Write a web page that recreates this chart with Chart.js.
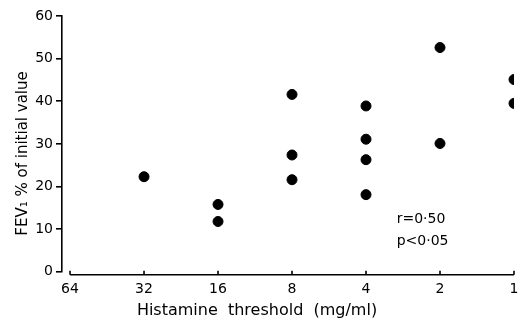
<!DOCTYPE html>
<html>
<head>
<meta charset="utf-8">
<script src="https://cdn.jsdelivr.net/npm/chart.js@4/dist/chart.umd.min.js"></script>
<style>
  html, body { margin: 0; padding: 0; background: #fff; }
  #wrap { width: 529px; height: 320px; }
</style>
</head>
<body>
<div id="wrap"><canvas id="myChart"></canvas></div>
<script>
// histamine threshold (mg/ml) of each patient and fall in FEV1
const thresholds = [32, 16, 16, 8, 8, 8, 4, 4, 4, 4, 2, 2, 1, 1];
const fev1 = [22.3, 15.8, 11.8, 41.6, 27.4, 21.6, 38.9, 31.1, 26.3, 18.1, 52.6, 30.1, 45.1, 39.5];
const xTicks = [64, 32, 16, 8, 4, 2, 1];
const yTicks = [0, 10, 20, 30, 40, 50, 60];
const statsLines = ["r=0·50", "p<0·05"];

const fontFamily = "'DejaVu Sans', sans-serif";

const data = {
  datasets: [
    {
      label: "FEV1",
      data: thresholds.map((t, i) => ({ x: t, y: fev1[i] })),
      backgroundColor: "#000",
      borderColor: "#000",
      pointRadius: 5,
      pointHoverRadius: 5,
    },
  ],
};

// x axis is drawn as a separate line just below the plot, with small upward ticks
const xAxisLine = {
  id: "xAxisLine",
  afterDraw(chart) {
    const { ctx, chartArea, scales } = chart;
    const y = chartArea.bottom + 3;
    ctx.save();
    ctx.strokeStyle = "#000";
    ctx.lineWidth = 1.6;
    ctx.beginPath();
    ctx.moveTo(scales.x.getPixelForValue(xTicks[0]), y);
    ctx.lineTo(scales.x.getPixelForValue(xTicks[xTicks.length - 1]), y);
    xTicks.forEach((t) => {
      const px = scales.x.getPixelForValue(t);
      ctx.moveTo(px, y);
      ctx.lineTo(px, y - 4);
    });
    ctx.stroke();

    // correlation text
    ctx.fillStyle = "#000";
    ctx.font = "14px " + fontFamily;
    ctx.textBaseline = "middle";
    ctx.textAlign = "left";
    ctx.fillText(statsLines[0], scales.x.getPixelForValue(3), scales.y.getPixelForValue(12.3));
    ctx.fillText(statsLines[1], scales.x.getPixelForValue(3), scales.y.getPixelForValue(7.1));
    ctx.restore();
  },
};

const config = {
  type: "scatter",
  data,
  options: {
    responsive: true,
    maintainAspectRatio: false,
    animation: false,
    events: [],
    layout: { padding: { left: 0, right: 15, top: 16, bottom: 0 } },
    plugins: {
      legend: { display: false },
      tooltip: { enabled: false },
      title: {
        display: true,
        position: "bottom",
        text: "Histamine  threshold  (mg/ml)",
        color: "#000",
        font: { family: fontFamily, size: 16, weight: "normal", lineHeight: 1.2 },
        padding: 0,
      },
    },
    scales: {
      x: {
        type: "logarithmic",
        reverse: true,
        min: 1,
        max: 69,
        afterBuildTicks: (scale) => {
          scale.ticks = xTicks.map((v) => ({ value: v }));
        },
        afterFit: (scale) => {
          scale.height = 29;
        },
        grid: { display: false, drawTicks: false },
        border: { display: false },
        ticks: {
          color: "#000",
          padding: 9,
          maxRotation: 0,
          autoSkip: false,
          font: { family: fontFamily, size: 14 },
          callback: (v) => String(v),
        },
      },
      y: {
        min: 0,
        max: 60,
        afterBuildTicks: (scale) => {
          scale.ticks = yTicks.map((v) => ({ value: v }));
        },
        afterFit: (scale) => {
          scale.width = 62;
        },
        grid: {
          drawOnChartArea: false,
          drawTicks: true,
          tickLength: 6,
          color: "#000",
          lineWidth: 1.6,
        },
        border: { display: true, color: "#000", width: 1.6 },
        ticks: {
          color: "#000",
          padding: 3,
          font: { family: fontFamily, size: 14 },
        },
        title: {
          display: true,
          text: "FEV₁ % of initial value    ",
          color: "#000",
          padding: { top: 14, bottom: 0 },
          font: { family: fontFamily, size: 15, lineHeight: 1.2 },
        },
      },
    },
  },
  plugins: [xAxisLine],
};

new Chart(document.getElementById("myChart"), config);
</script>
</body>
</html>
